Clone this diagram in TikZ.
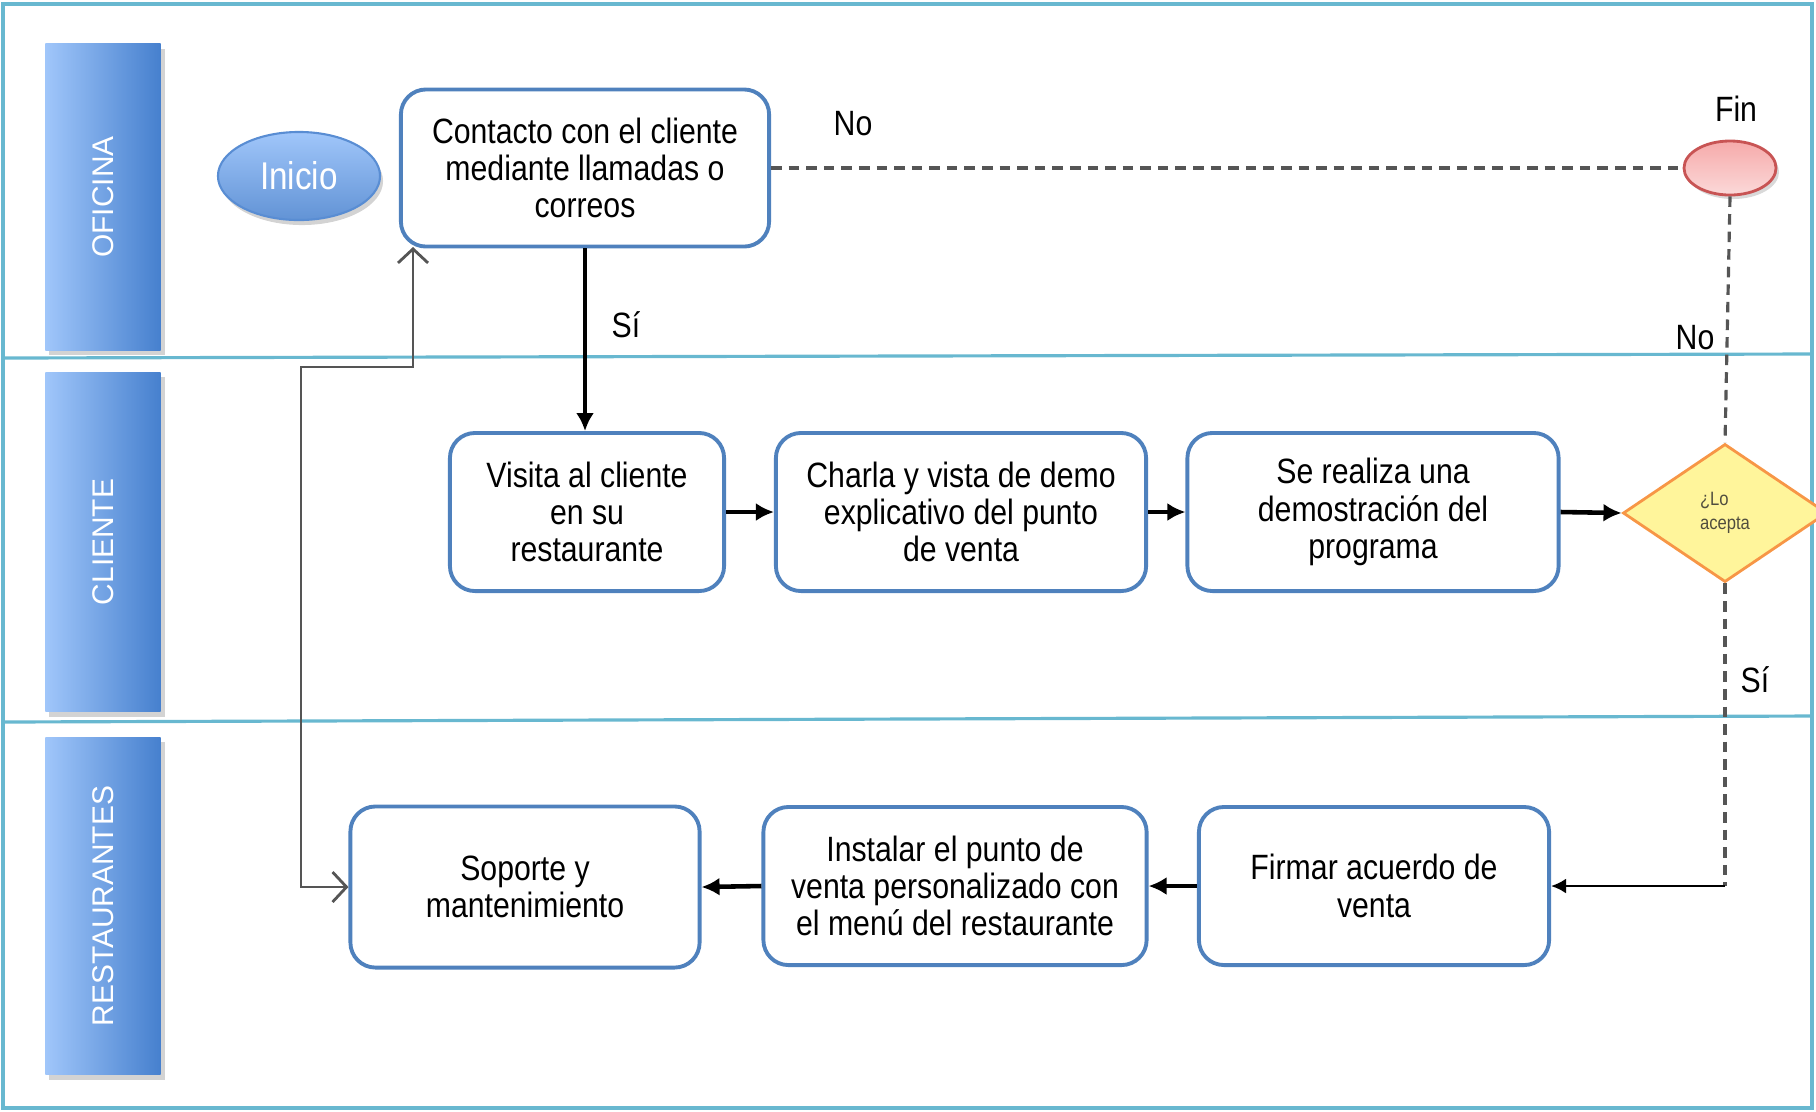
\documentclass[tikz,border=0pt]{standalone}
\usepackage{fontspec}
\setmainfont[FakeStretch=0.86]{Liberation Sans}
\newfontfamily\lanefont{Liberation Sans}
\usepackage{tikz}
\usetikzlibrary{shapes.geometric}
\usetikzlibrary{arrows.meta}
\usetikzlibrary{shadows}
\usepackage{xcolor}
\definecolor{lineteal}{RGB}{104,184,208}
\definecolor{boxblue}{RGB}{79,129,189}
\definecolor{lanelight}{RGB}{160,198,250}
\definecolor{lanedark}{RGB}{70,128,206}
\definecolor{finred}{RGB}{200,84,84}
\definecolor{finpink}{RGB}{246,170,170}
\definecolor{decorange}{RGB}{247,150,70}
\definecolor{decyellow}{RGB}{255,245,155}
\definecolor{dashgray}{RGB}{85,85,85}

\begin{document}
\begin{tikzpicture}[x=0.01cm, y=-0.01cm]
	% Define style for nodes
	\tikzstyle{every node}=[font=\fontsize{10}{10.6}\selectfont]
	\tikzstyle{proc}=[draw=boxblue, line width=1.1pt, rounded corners=0.25cm, fill=white, align=center, inner sep=2pt, minimum height=1.58cm]
	\tikzstyle{lane}=[draw=none, left color=lanelight, right color=lanedark, minimum width=1.15cm, inner sep=0pt, drop shadow={shadow xshift=0.04cm, shadow yshift=-0.05cm, opacity=0.35}]
	\tikzstyle{lanetext}=[text=white, rotate=90, font=\lanefont\fontsize{8.5}{10}\selectfont]
	\tikzstyle{flow}=[line width=1.3pt, -{Latex[length=1.8mm,width=1.8mm]}]
	\tikzstyle{opt}=[dashgray, line width=0.9pt, dash pattern=on 3pt off 2pt]
	\tikzstyle{back}=[dashgray, line width=0.8pt, {Straight Barb[length=1.4mm,width=3mm]}-{Straight Barb[length=1.4mm,width=3mm]}]
	
	\useasboundingbox (0,0) rectangle (1816,1111);
	
	% swimlanes
	\draw[lineteal, line width=0.9pt] (3,4) rectangle (1812,1108);
	\draw[lineteal, line width=0.9pt] (3,358) -- (1812,354);
	\draw[lineteal, line width=0.9pt] (3,722) -- (1812,716);
	
	\node[lane, minimum height=3.06cm] (oficina) at (103,197) {};
	\node[lane, minimum height=3.39cm] (cliente) at (103,542) {};
	\node[lane, minimum height=3.37cm] (restaurantes) at (103,906) {};
	\node[lanetext] (oficinaT) at (oficina) {OFICINA};
	\node[lanetext] (clienteT) at (cliente) {CLIENTE};
	\node[lanetext] (restaurantesT) at (restaurantes) {RESTAURANTES};
	
	% start and end
	\node[ellipse, draw=lanedark!90, line width=0.6pt, top color=lanelight, bottom color=lanedark!85, text=white, minimum width=1.62cm, minimum height=0.88cm, font=\fontsize{11}{12}\selectfont, drop shadow={shadow xshift=0.03cm, shadow yshift=-0.05cm, opacity=0.35}] (inicio) at (299,176) {Inicio};
	\node[ellipse, draw=finred, line width=0.8pt, top color=finpink, bottom color=finpink!45, minimum width=0.92cm, minimum height=0.54cm, drop shadow={shadow xshift=0.03cm, shadow yshift=-0.04cm, opacity=0.3}] (fin) at (1730,168) {};
	\node (finlab) at (1736,109) {Fin};
	
	% process boxes
	\node[proc, minimum width=3.68cm, minimum height=1.57cm] (contacto) at (585,168) {Contacto con el cliente\\mediante llamadas o\\correos};
	
	\node[proc, minimum width=2.74cm] (visita) at (587,512) {Visita al cliente\\en su\\restaurante};
	\node[proc, minimum width=3.70cm] (charla) at (961,512) {Charla y vista de demo\\explicativo del punto\\de venta};
	\node[proc, minimum width=3.71cm] (demo) at (1373,512) {Se realiza una\\demostración del\\programa};
	\node[diamond, draw=decorange, line width=0.8pt, fill=decyellow, minimum width=2.04cm, minimum height=1.38cm, inner sep=0pt, align=left, text=black!65!yellow!60!black, font=\fontsize{5.5}{7}\selectfont] (dec) at (1725,513) {¿Lo\\acepta};
	
	\node[proc, minimum width=3.50cm] (firmar) at (1374,886) {Firmar acuerdo de\\venta};
	\node[proc, minimum width=3.83cm] (instalar) at (955,886) {Instalar el punto de\\venta personalizado con\\el menú del restaurante};
	\node[proc, minimum width=3.49cm, minimum height=1.61cm] (soporte) at (525,887) {Soporte y\\mantenimiento};
	
	% connectors
	\draw[flow] (contacto.south) -- (contacto.south |- visita.north);
	\draw[flow] (visita.east) -- (charla.west);
	\draw[flow] (charla.east) -- (demo.west);
	\draw[flow] (demo.east) -- (dec.west);
	\draw[flow] (firmar.west) -- (instalar.east);
	\draw[flow] (instalar.west) -- (soporte.east);
	
	\draw[opt] (contacto.east) -- (fin.west);
	\draw[opt] (fin.south) -- (dec.north);
	\draw[opt] (dec.south) -- (dec.south |- firmar.east) coordinate (sicorner);
	\draw[line width=0.7pt, -{Latex[length=1.5mm,width=1.5mm]}] (sicorner) -- (firmar.east);
	
	\coordinate (fb1) at (301,367);
	\coordinate (fb2) at (413,247);
	\draw[back] (soporte.west) -| (fb1) -| (fb2);
	
	% labels
	\node (nolab1) at (853,124) {No};
	\node (silab1) at (626,325) {Sí};
	\node (nolab2) at (1695,338) {No};
	\node (silab2) at (1755,680) {Sí};
\end{tikzpicture}
\end{document}
